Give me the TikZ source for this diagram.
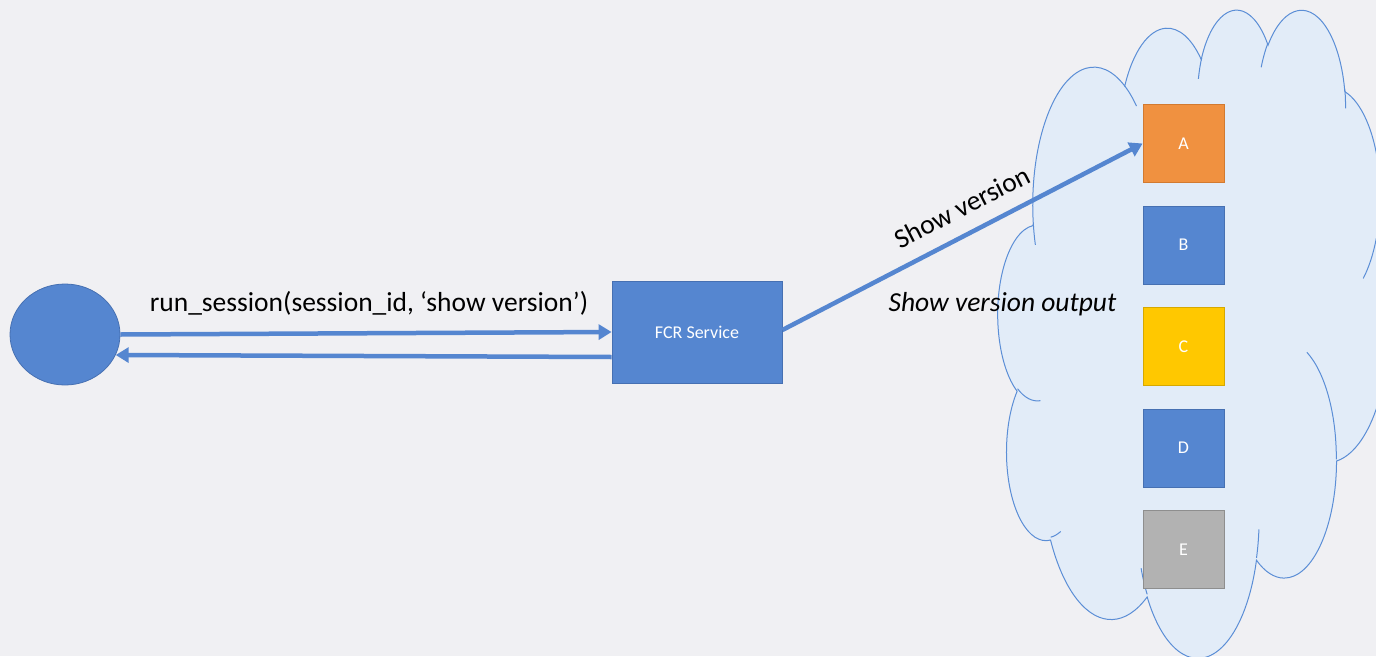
\documentclass[tikz,border=0pt]{standalone}
\usepackage{fontspec}
\setmainfont{Carlito}
\usetikzlibrary{arrows.meta,calc,shapes.geometric}

\definecolor{bgc}{RGB}{240,240,243}
\definecolor{accblue}{RGB}{85,134,208}
\definecolor{accblueline}{RGB}{70,112,178}
\definecolor{orangefill}{RGB}{240,145,64}
\definecolor{orangeline}{RGB}{210,122,48}
\definecolor{yellowfill}{RGB}{255,200,0}
\definecolor{yellowline}{RGB}{214,168,0}
\definecolor{greyfill}{RGB}{178,178,178}
\definecolor{greyline}{RGB}{142,142,142}
\definecolor{cloudfill}{RGB}{226,236,248}
\definecolor{cloudline}{RGB}{91,142,214}

% cloud geometry: units of 1/1000 of the 43200 preset grid, scaled to the frame
\def\kx{9.0509}
\def\ky{15}
\def\cx{998}
\def\cy{8}
\newcommand\cpt[2]{({\cx+(#1)*\kx},{-\cy-(#2)*\ky})}
% elliptical arc: angles are directions on the unscaled grid ellipse
\newcommand\carc[4]{arc[start angle={-atan2((#1)*sin(#3),(#2)*cos(#3))},
  delta angle={-mod(atan2((#1)*sin((#3)+(#4)),(#2)*cos((#3)+(#4)))-atan2((#1)*sin(#3),(#2)*cos(#3))+720,360)},
  x radius={(#1)*\kx}, y radius={(#2)*\ky}]}

\tikzset{
  box/.style={rectangle, minimum width=81pt, minimum height=78pt, inner sep=0pt,
    line width=0.8pt, text=white, font=\fontsize{18}{22}\selectfont},
  arr/.style={line width=4.5pt, draw=accblue,
    -{Triangle[length=13pt,width=15pt]}, shorten >=0pt},
  lbl/.style={font=\fontsize{27.5}{33}\selectfont, inner sep=0pt, text=black},
  cloudedge/.style={draw=cloudline, line width=1pt},
}

\begin{document}
\begin{tikzpicture}[x=1pt,y=1pt]
\useasboundingbox (0,0) rectangle (1376,-656);
\fill[bgc] (0,0) rectangle (1376,-656);

\begin{scope}
\clip (0,0) rectangle (1376,-656);
% cloud outline
\filldraw[fill=cloudfill, cloudedge] \cpt{3.900}{14.370}
  \carc{6.753}{9.190}{-190.4875}{123.7805}
  \carc{5.333}{7.267}{-144.1024}{89.9452}
  \carc{4.365}{5.945}{-145.8079}{99.7230}
  \carc{4.857}{6.595}{-130.9861}{117.2417}
  \carc{5.333}{7.273}{-78.7089}{109.0269}
  \carc{6.775}{9.220}{-46.2673}{130.2690}
  \carc{5.785}{7.867}{0.6250}{114.0333}
  \carc{6.752}{9.215}{22.4516}{115.1726}
  \carc{7.720}{10.543}{66.2426}{75.7110}
  \carc{4.360}{5.918}{-274.9421}{146.7356}
  \carc{4.345}{5.945}{-246.8285}{152.5189} -- cycle;
% inner lobe creases
\draw[cloudedge] \cpt{4.693}{26.177} \carc{4.345}{5.945}{86.742}{26.4295};
\draw[cloudedge] \cpt{6.928}{34.899} \carc{4.360}{5.918}{73.6105}{11.4475};
\draw[cloudedge] \cpt{16.478}{39.090} \carc{6.752}{9.215}{137.6242}{14.0811};
\draw[cloudedge] \cpt{28.827}{34.751} \carc{6.752}{9.215}{6.4533}{15.9984};
\draw[cloudedge] \cpt{34.129}{22.954} \carc{5.785}{7.867}{-70.2924}{70.9174};
\draw[cloudedge] \cpt{41.798}{15.354} \carc{5.333}{7.273}{30.3180}{27.7515};
\draw[cloudedge] \cpt{38.324}{5.426} \carc{4.857}{6.595}{-13.7443}{14.8589};
\draw[cloudedge] \cpt{29.078}{3.952} \carc{4.857}{6.595}{-149.1815}{18.1954};
\draw[cloudedge] \cpt{22.141}{4.720} \carc{4.365}{5.945}{-163.4943}{17.6864};
\draw[cloudedge] \cpt{14.000}{5.192} \carc{6.753}{9.190}{-66.7070}{12.3194};
\draw[cloudedge] \cpt{4.127}{15.789} \carc{6.753}{9.190}{157.6544}{11.8582};
\end{scope}

% client and service
\node[ellipse, minimum width=110pt, minimum height=101pt, inner sep=0pt,
  fill=accblue, draw=accblueline, line width=0.8pt] (c) at (65,-334.5) {};
\node[box, minimum width=170pt, minimum height=102pt, fill=accblue, draw=accblueline]
  (f) at (697,-332) {FCR Service};

% devices
\node[box, fill=orangefill, draw=orangeline] (a) at (1183.5,-143.5) {A};
\node[box, fill=accblue, draw=accblueline] (b) at (1183.5,-245) {B};
\node[box, fill=yellowfill, draw=yellowline] (cc) at (1183.5,-346.5) {C};
\node[box, fill=accblue, draw=accblueline] (d) at (1183.5,-448) {D};
\node[box, fill=greyfill, draw=greyline] (e) at (1183.5,-549.5) {E};

% connectors
\draw[arr] (c.east) -- (f.west);
\draw[arr] ($(f.west)+(0,-25)$) -- (c.-22);
\draw[arr] ($(f.east)+(0,2)$) -- (a.west);

% labels
\node[lbl, anchor=base] (call) at (369,-311) {run\_session(session\_id, ‘show version’)};
\node[lbl, rotate=27] (cmd) at (962,-207) {Show version};
\node[lbl, anchor=base, font=\fontsize{27.5}{33}\selectfont\itshape] (out) at (1002.5,-311) {Show version output};
\end{tikzpicture}
\end{document}
